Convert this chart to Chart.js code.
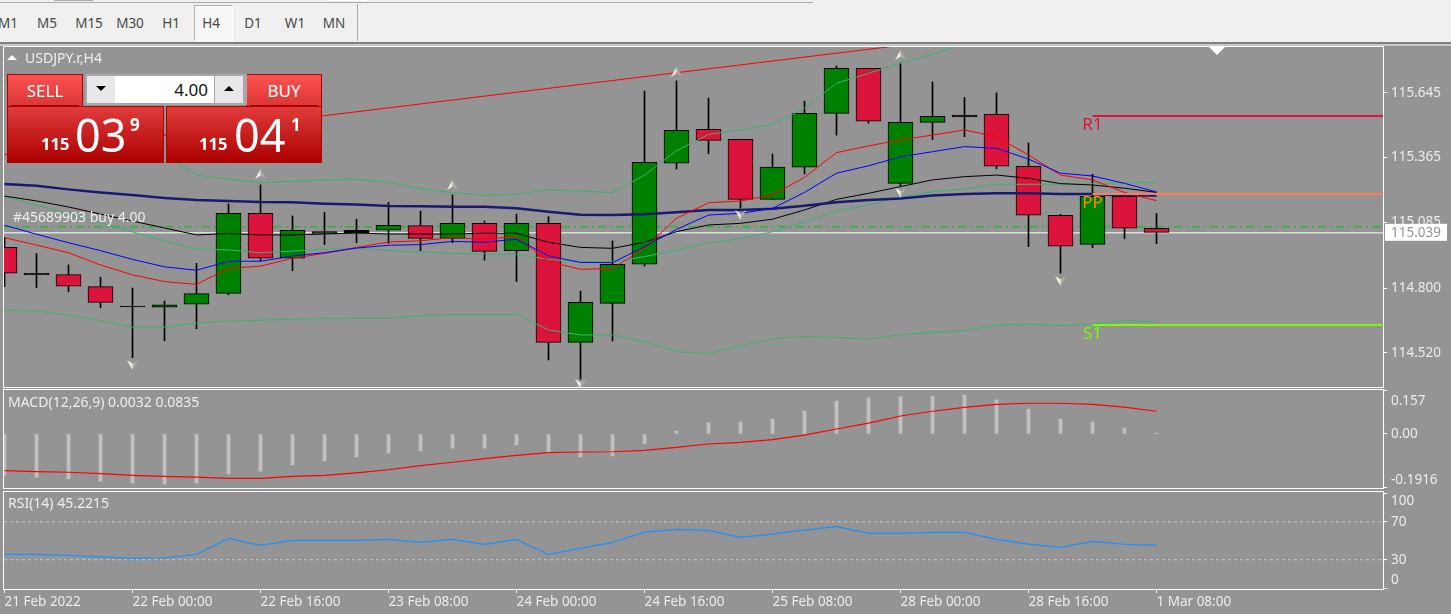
<!DOCTYPE html>
<html>
<head>
<meta charset="utf-8">
<title>USDJPY.r,H4</title>
<script src="https://cdn.jsdelivr.net/npm/chart.js@4"></script>
<style>
    html, body { margin: 0; padding: 0; background: #949494; overflow: hidden; }
    body { width: 1451px; height: 614px; position: relative; font-family: "Noto Sans", sans-serif; }
    div, span, canvas { position: absolute; box-sizing: border-box; }
    #toolbar { left: 0; top: 0; width: 1451px; height: 42px; background: #f0f0f0; }
    #toolbar span { top: 13px; font-size: 13.5px; line-height: 20px; color: #484848; transform: translateX(-50%); white-space: nowrap; }
    #h4 { left: 194px; top: 5px; width: 39px; height: 36px; background: #f6f6f6; border: 1px solid #fff; border-top-color: #b0b0b0; border-left-color: #b0b0b0; }
    #sep { left: 357px; top: 4px; width: 1px; height: 37px; background: #aaa; }
    .line { left: 0; width: 1451px; }
    .frame { left: 3px; width: 1381px; border: 1px solid #fff; }
    .title { color: #eee; font-size: 14px; line-height: 16px; white-space: nowrap; }
    .tab { top: 74px; height: 33px; background: linear-gradient(#ff5252, #d93434); border: 1px solid #b00000; border-bottom: 0; }
    .tab span { left: 0; right: 0; top: 4px; text-align: center; color: #fff; font-size: 17px; line-height: 24px; }
    .tab i { position: absolute; left: 3px; right: 3px; bottom: 1px; height: 1px; background: #a80000; }
    .quote { top: 106px; height: 57px; background: linear-gradient(#e03c3c, #ad0000); border: 1px solid #b00000; color: #fff; }
    .quote span { white-space: nowrap; }
    .small { font-size: 16.5px; font-weight: 700; line-height: 20px; top: 27px; }
    .big { font-size: 45px; line-height: 54px; top: 1px; }
    .tiny { font-size: 17px; font-weight: 700; line-height: 20px; top: 8px; }
    #spin { left: 85px; top: 74px; width: 162px; height: 31px; background: #a8a8a8; }
    .spinbtn { top: 2px; width: 28px; height: 27px; background: #e8e8e8; }
    .spinbtn i { position: absolute; left: 9px; top: 10px; border-left: 5px solid transparent; border-right: 5px solid transparent; }
    #lot { left: 30px; top: 2px; width: 99px; height: 27px; background: #fff; color: #111; font-size: 17px; line-height: 27px; text-align: right; padding-right: 6px; }
</style>
</head>
<body>
<div id="toolbar">
    <div class="line" style="top:2px;width:813px;height:1px;background:#aaa"></div>
    <div style="left:54px;top:0;width:39px;height:1px;background:#aaa"></div>
    <div style="left:328px;top:0;width:39px;height:1px;background:#fff"></div>
    <div id="h4"></div>
    <div id="sep"></div>
</div>
<div class="line" style="top:42px;height:2px;background:#808080"></div>
<div class="line" style="top:44px;height:2px;background:#c8c8c8"></div>

<div class="frame" style="top:46px;height:342px"></div>
<div class="frame" style="top:389px;height:100px"></div>
<div class="frame" style="top:491px;height:99px"></div>

<canvas id="mainChart" width="1447" height="340" style="left:4px;top:47px;width:1447px;height:340px"></canvas>
<canvas id="macdChart" width="1447" height="98" style="left:4px;top:390px;width:1447px;height:98px"></canvas>
<canvas id="rsiChart" width="1447" height="122" style="left:4px;top:492px;width:1447px;height:122px"></canvas>

<div style="left:7px;top:55px;border-left:5px solid transparent;border-right:5px solid transparent;border-bottom:5px solid #fff"></div>
<span class="title" style="left:25px;top:50px" id="symbolTitle"></span>
<span class="title" style="left:8px;top:394px" id="macdTitle"></span>
<span class="title" style="left:8px;top:495px" id="rsiTitle"></span>
<div style="left:1209px;top:47px;border-left:8px solid transparent;border-right:8px solid transparent;border-top:8px solid #fff"></div>

<div class="tab" style="left:7px;width:76px"><span>SELL</span><i></i></div>
<div class="tab" style="left:246px;width:76px"><span>BUY</span><i></i></div>
<div class="quote" style="left:7px;width:157px">
    <span class="small" style="left:33px">115</span>
    <span class="big" style="left:67px">03</span>
    <span class="tiny" style="left:122px">9</span>
</div>
<div class="quote" style="left:166px;width:156px">
    <span class="small" style="left:32px">115</span>
    <span class="big" style="left:67px">04</span>
    <span class="tiny" style="left:124px">1</span>
</div>
<div id="spin">
    <div class="spinbtn" style="left:2px"><i style="border-top:5px solid #000"></i></div>
    <div id="lot">4.00</div>
    <div class="spinbtn" style="left:130px"><i style="border-bottom:5px solid #000"></i></div>
</div>

<script>
// toolbar + pane captions
const timeframes = ['M1', 'M5', 'M15', 'M30', 'H1', 'H4', 'D1', 'W1', 'MN'];
const timeframeCenters = [8, 47, 89, 130, 171, 211, 253, 295, 334];
const symbolTitle = 'USDJPY.r,H4';
const macdTitle = 'MACD(12,26,9) 0.0032 0.0835';
const rsiTitle = 'RSI(14) 45.2215';
const orderText = '#45689903 buy 4.00';

// candles, one per 4 hours
const opens = [114.976, 114.864, 114.858, 114.806, 114.722, 114.717, 114.730, 114.777, 115.123, 114.929, 115.044, 115.040, 115.050, 115.070, 115.015, 115.080, 114.962, 115.080, 114.565, 114.734, 114.903, 115.340, 115.487, 115.444, 115.184, 115.323, 115.556, 115.751, 115.253, 115.517, 115.548, 115.552, 115.327, 115.115, 114.989, 115.197, 115.059];
const highs = [115.018, 114.950, 114.900, 114.847, 114.800, 114.744, 114.907, 115.164, 115.246, 115.112, 115.128, 115.098, 115.171, 115.133, 115.203, 115.090, 115.120, 115.109, 114.787, 115.004, 115.653, 115.696, 115.622, 115.444, 115.380, 115.609, 115.761, 115.751, 115.774, 115.692, 115.625, 115.644, 115.428, 115.119, 115.292, 115.197, 115.123];
const lows = [114.806, 114.802, 114.784, 114.715, 114.499, 114.572, 114.624, 114.771, 114.918, 114.875, 114.988, 114.996, 114.994, 114.962, 114.996, 114.921, 114.828, 114.489, 114.406, 114.571, 114.895, 115.315, 115.381, 115.145, 115.184, 115.294, 115.462, 115.513, 115.243, 115.442, 115.455, 115.316, 114.979, 114.864, 114.975, 115.014, 114.992];
const closes = [114.864, 114.857, 114.808, 114.738, 114.718, 114.728, 114.776, 115.123, 114.929, 115.050, 115.037, 115.050, 115.072, 115.015, 115.080, 114.959, 115.080, 114.565, 114.738, 114.903, 115.344, 115.483, 115.439, 115.184, 115.323, 115.556, 115.751, 115.522, 115.517, 115.543, 115.541, 115.327, 115.115, 114.981, 115.197, 115.059, 115.041];

// indicators on the price pane
const bandUpper = [115.692, 115.618, 115.557, 115.506, 115.454, 115.376, 115.289, 115.271, 115.256, 115.262, 115.268, 115.271, 115.258, 115.230, 115.213, 115.201, 115.206, 115.226, 115.219, 115.213, 115.289, 115.394, 115.465, 115.484, 115.507, 115.578, 115.686, 115.729, 115.773, 115.811, 115.856];
const bandMiddle = [115.198, 115.159, 115.120, 115.082, 115.043, 115.004, 114.968, 114.965, 114.953, 114.960, 114.969, 114.970, 114.963, 114.956, 114.950, 114.947, 114.947, 114.924, 114.914, 114.914, 114.936, 114.965, 114.994, 115.015, 115.044, 115.085, 115.133, 115.159, 115.193, 115.217, 115.229, 115.249, 115.249, 115.249, 115.252, 115.256, 115.258];
const bandLower = [114.704, 114.701, 114.683, 114.659, 114.631, 114.631, 114.648, 114.657, 114.661, 114.665, 114.669, 114.670, 114.670, 114.680, 114.686, 114.686, 114.686, 114.619, 114.597, 114.597, 114.568, 114.525, 114.516, 114.551, 114.580, 114.591, 114.585, 114.580, 114.598, 114.608, 114.616, 114.639, 114.643, 114.637, 114.644, 114.659, 114.654];
const maBlack = [115.198, 115.177, 115.151, 115.120, 115.090, 115.060, 115.030, 115.036, 115.030, 115.030, 115.034, 115.038, 115.034, 115.034, 115.034, 115.037, 115.037, 114.998, 114.976, 114.972, 114.998, 115.044, 115.073, 115.080, 115.098, 115.138, 115.184, 115.210, 115.239, 115.268, 115.282, 115.289, 115.275, 115.252, 115.246, 115.232, 115.214];
const maBlue = [115.072, 115.033, 114.996, 114.962, 114.924, 114.892, 114.877, 114.916, 114.916, 114.939, 114.953, 114.973, 114.985, 114.988, 115.002, 114.998, 115.012, 114.939, 114.911, 114.910, 114.979, 115.054, 115.116, 115.123, 115.145, 115.214, 115.297, 115.329, 115.368, 115.390, 115.412, 115.405, 115.358, 115.297, 115.285, 115.253, 115.216];
const maRed = [115.018, 114.986, 114.953, 114.900, 114.857, 114.828, 114.816, 114.885, 114.895, 114.929, 114.950, 114.976, 114.999, 115.005, 115.018, 115.012, 115.022, 114.914, 114.881, 114.885, 114.972, 115.102, 115.169, 115.177, 115.203, 115.279, 115.386, 115.415, 115.441, 115.462, 115.484, 115.455, 115.376, 115.289, 115.268, 115.214, 115.178];
const maNavy = [115.250, 115.243, 115.227, 115.214, 115.203, 115.190, 115.181, 115.177, 115.172, 115.171, 115.165, 115.162, 115.155, 115.154, 115.152, 115.152, 115.145, 115.130, 115.117, 115.116, 115.119, 115.128, 115.138, 115.138, 115.143, 115.156, 115.171, 115.181, 115.188, 115.200, 115.207, 115.210, 115.210, 115.207, 115.207, 115.200, 115.200];

// trend line, order line, current price, pivots
const trendBars = [0, 28];
const trendPrices = [115.377, 115.850];
const orderPrice = 115.065;
const lastPrice = 115.039;
const pivotStart = 34;
const pivotNames = ['R1', 'PP', 'S1'];
const pivotPrices = [115.544, 115.207, 114.640];
const pivotColors = ['#dc143c', '#ff7f50', '#7cfc00'];
const pivotTextColors = ['#dc143c', '#ff8c00', '#7cfc00'];

// fractal arrows
const fractalUpBars = [8, 14, 21, 28];
const fractalUpPrices = [115.293, 115.246, 115.736, 115.808];
const fractalDownBars = [4, 18, 23, 28, 33];
const fractalDownPrices = [114.467, 114.385, 115.116, 115.213, 114.831];

// MACD
const macdHist = [-0.148, -0.156, -0.162, -0.170, -0.177, -0.181, -0.177, -0.144, -0.134, -0.112, -0.097, -0.083, -0.069, -0.061, -0.051, -0.051, -0.040, -0.069, -0.083, -0.079, -0.036, 0.011, 0.040, 0.043, 0.054, 0.083, 0.119, 0.130, 0.134, 0.137, 0.141, 0.123, 0.090, 0.054, 0.043, 0.022, 0.0032];
const macdSignal = [-0.132, -0.136, -0.138, -0.143, -0.149, -0.153, -0.156, -0.160, -0.160, -0.153, -0.149, -0.140, -0.129, -0.114, -0.102, -0.089, -0.077, -0.067, -0.065, -0.064, -0.059, -0.048, -0.036, -0.030, -0.020, -0.004, 0.018, 0.039, 0.065, 0.082, 0.096, 0.107, 0.111, 0.111, 0.107, 0.097, 0.082];

// RSI
const rsiValues = [35.6, 35.6, 34.5, 33.1, 31.4, 32.1, 35.6, 52.5, 45.1, 50.3, 50.3, 50.3, 51.4, 48.2, 51.4, 46.1, 51.4, 35.6, 41.9, 48.2, 59.1, 61.9, 60.9, 53.5, 57.0, 61.2, 65.1, 57.7, 57.7, 58.8, 58.8, 51.4, 46.5, 43.0, 49.3, 46.1, 45.1];
const rsiLevels = [70, 30];

// tick labels
const priceTicks = [114.52, 114.8, 115.085, 115.365, 115.645];
const macdTicks = [-0.1916, 0, 0.157];
const rsiTicks = [0, 30, 70, 100];
const timeTickBars = [0, 4, 8, 12, 16, 20, 24, 28, 32, 36];
const timeTickLabels = ['21 Feb 2022', '22 Feb 00:00', '22 Feb 16:00', '23 Feb 08:00', '24 Feb 00:00', '24 Feb 16:00', '25 Feb 08:00', '28 Feb 00:00', '28 Feb 16:00', '1 Mar 08:00'];

// one bar is 32px wide and bar 0 sits half a pixel into the plot
const BAR_MIN = -0.015625;
const BAR_MAX = 43.078;
const LABEL_COLOR = '#ececec';
const TICK_FONT = { family: '"Noto Sans"', size: 13.5 };

Chart.defaults.font.family = '"Noto Sans"';

function series(values) {
    return values.map((y, i) => ({ x: i, y: y }));
}

function flat(value, fromBar) {
    return [{ x: fromBar, y: value }, { x: BAR_MAX, y: value }];
}

function lineSet(data, color, width, order, extra) {
    return Object.assign({
        type: 'line',
        data: data,
        borderColor: color,
        borderWidth: width,
        pointRadius: 0,
        tension: 0,
        order: order
    }, extra || {});
}

function barAxis(showLabels) {
    return {
        type: 'linear',
        display: showLabels,
        min: BAR_MIN,
        max: BAR_MAX,
        offset: false,
        afterBuildTicks: s => { s.ticks = timeTickBars.map(v => ({ value: v })); },
        afterFit: s => { s.height = showLabels ? 25 : 0; s.paddingLeft = 0; s.paddingRight = 0; },
        grid: { drawOnChartArea: false, color: '#fff', tickLength: 4, offset: false },
        border: { display: false },
        ticks: {
            color: LABEL_COLOR,
            font: TICK_FONT,
            padding: 1,
            autoSkip: false,
            maxRotation: 0,
            align: 'start',
            callback: v => timeTickLabels[timeTickBars.indexOf(v)]
        }
    };
}

function valueAxis(min, max, values, format, font) {
    return {
        position: 'right',
        min: min,
        max: max,
        afterBuildTicks: s => { s.ticks = values.map(v => ({ value: v })); },
        afterFit: s => { s.width = 68; s.paddingTop = 0; s.paddingBottom = 0; },
        grid: { drawOnChartArea: false, color: '#fff', tickLength: 4 },
        border: { display: false },
        ticks: { color: LABEL_COLOR, font: font || TICK_FONT, padding: 4, autoSkip: false, callback: format }
    };
}

function baseOptions(showBarLabels, yAxis) {
    return {
        responsive: false,
        animation: false,
        devicePixelRatio: 1,
        layout: { padding: 0, autoPadding: false },
        events: [],
        plugins: { legend: { display: false }, tooltip: { enabled: false } },
        scales: { x: barAxis(showBarLabels), y: yAxis }
    };
}

function arrowIcon(up) {
    const c = document.createElement('canvas');
    c.width = 11;
    c.height = 10;
    const g = c.getContext('2d');
    if (!up) { g.translate(11, 10); g.rotate(Math.PI); }
    g.fillStyle = up ? '#f4f4ea' : '#aeaea6';
    g.beginPath();
    g.moveTo(5.5, 0); g.lineTo(5.5, 6.5); g.lineTo(0, 10);
    g.fill();
    g.fillStyle = up ? '#aeaea6' : '#f4f4ea';
    g.beginPath();
    g.moveTo(5.5, 0); g.lineTo(11, 10); g.lineTo(5.5, 6.5);
    g.fill();
    return c;
}

function fractalSet(bars, prices, up) {
    return lineSet(bars.map((b, i) => ({ x: b, y: prices[i] })), '#fff', 0, 1, {
        showLine: false,
        pointRadius: 6,
        pointStyle: arrowIcon(up)
    });
}

const priceText = {
    id: 'priceText',
    afterDraw(chart) {
        const g = chart.ctx;
        const xs = chart.scales.x;
        const ys = chart.scales.y;
        g.save();
        g.textBaseline = 'middle';
        g.textAlign = 'center';
        g.font = '17px "Noto Sans"';
        pivotNames.forEach((name, i) => {
            g.fillStyle = pivotTextColors[i];
            g.fillText(name, xs.getPixelForValue(pivotStart), ys.getPixelForValue(pivotPrices[i]) + 9);
        });
        g.textAlign = 'left';
        g.font = '14px "Noto Sans"';
        g.fillStyle = '#eee';
        g.fillText(orderText, 9, ys.getPixelForValue(orderPrice) - 9);

        // current price box covers the axis label under it
        const y = ys.getPixelForValue(lastPrice);
        g.fillStyle = '#fff';
        g.fillRect(chart.chartArea.right + 2, y - 9, 62, 17);
        g.fillStyle = '#949494';
        g.font = TICK_FONT.size + 'px "Noto Sans"';
        g.fillText(lastPrice.toFixed(3), chart.chartArea.right + 8, y);
        g.restore();
    }
};

function candleColor(open, close) {
    if (Math.abs(open - close) < 0.01) return '#000';
    return close >= open ? '#008000' : '#dc143c';
}

function renderMainChart() {
    const pivotSets = pivotPrices.map((p, i) => lineSet(flat(p, pivotStart), pivotColors[i], 2, 2));
    new Chart(document.getElementById('mainChart'), {
        type: 'bar',
        data: {
            datasets: [
                lineSet(flat(lastPrice, BAR_MIN), '#fff', 1, 10),
                lineSet(flat(orderPrice, BAR_MIN), '#00c800', 1, 10, { borderDash: [8, 4, 2, 4] }),
                {
                    data: lows.map((l, i) => ({ x: i, y: [l, highs[i]] })),
                    backgroundColor: '#000',
                    barThickness: 1,
                    grouped: false,
                    order: 9
                },
                {
                    data: opens.map((o, i) => ({ x: i, y: [o, closes[i]] })),
                    backgroundColor: opens.map((o, i) => candleColor(o, closes[i])),
                    borderColor: '#000',
                    borderWidth: 1,
                    borderSkipped: false,
                    barThickness: 25,
                    grouped: false,
                    order: 8
                },
                lineSet(series(bandUpper), '#3cb371', 1, 6),
                lineSet(series(bandMiddle), '#3cb371', 1, 6),
                lineSet(series(bandLower), '#3cb371', 1, 6),
                lineSet(series(maBlack), '#000', 1, 5),
                lineSet(series(maNavy), '#191970', 2.5, 4),
                lineSet(series(maBlue), '#0000ff', 1, 3),
                lineSet(series(maRed), '#ff0000', 1, 3),
                lineSet(trendBars.map((b, i) => ({ x: b, y: trendPrices[i] })), '#ff0000', 1, 3),
                ...pivotSets,
                fractalSet(fractalUpBars, fractalUpPrices, true),
                fractalSet(fractalDownBars, fractalDownPrices, false)
            ]
        },
        options: baseOptions(false, valueAxis(114.372, 115.843, priceTicks, v => v.toFixed(3))),
        plugins: [priceText]
    });
}

// line height sets how far the two outer labels get pushed into the pane
function macdTickFont(ctx) {
    const value = ctx.tick ? ctx.tick.value : 0;
    const lineHeight = value === 0.157 ? 1.6 : value === -0.1916 ? 1.0 : 1.2;
    return Object.assign({}, TICK_FONT, { lineHeight: lineHeight });
}

function renderMacdChart() {
    new Chart(document.getElementById('macdChart'), {
        type: 'bar',
        data: {
            datasets: [
                { data: series(macdHist), backgroundColor: '#c0c0c0', barThickness: 3, order: 2 },
                lineSet(series(macdSignal), '#ff0000', 1.2, 1)
            ]
        },
        // top and bottom labels sit inside the pane, a blank line pushes them in
        options: baseOptions(false, valueAxis(-0.1949, 0.1588, macdTicks, v => {
            if (v === 0.157) return ['', '0.157'];
            if (v === -0.1916) return ['-0.1916', ''];
            return '0.00';
        }, macdTickFont))
    });
}

function renderRsiChart() {
    const levelSets = rsiLevels.map(v => lineSet(flat(v, BAR_MIN), '#c4c4c4', 1, 2, { borderDash: [3, 3] }));
    new Chart(document.getElementById('rsiChart'), {
        type: 'line',
        data: {
            datasets: [...levelSets, lineSet(series(rsiValues), '#1e90ff', 1.2, 1)]
        },
        options: baseOptions(true, valueAxis(-0.8, 101.3, rsiTicks, v => {
            if (v === 100) return ['', '100'];
            if (v === 0) return ['0', ''];
            return String(v);
        }))
    });
}

function fillCaptions() {
    const toolbar = document.getElementById('toolbar');
    timeframes.forEach((name, i) => {
        const s = document.createElement('span');
        s.textContent = name;
        s.style.left = timeframeCenters[i] + 'px';
        toolbar.appendChild(s);
    });
    document.getElementById('symbolTitle').textContent = symbolTitle;
    document.getElementById('macdTitle').textContent = macdTitle;
    document.getElementById('rsiTitle').textContent = rsiTitle;
}

fillCaptions();
renderMainChart();
renderMacdChart();
renderRsiChart();
</script>
</body>
</html>
